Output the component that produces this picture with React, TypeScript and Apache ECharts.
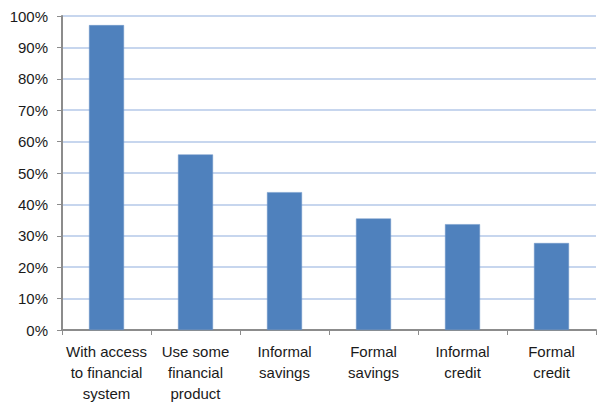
import React, { useEffect, useRef } from "react";
import * as echarts from "echarts";

const categories = [
  "With access\nto financial\nsystem",
  "Use some\nfinancial\nproduct",
  "Informal\nsavings",
  "Formal\nsavings",
  "Informal\ncredit",
  "Formal\ncredit",
];
const values = [97.1, 55.9, 43.9, 35.5, 33.7, 27.7];
const yTicks = { min: 0, max: 100, interval: 10 };

const FONT = "'Liberation Sans Narrow', 'Liberation Sans', Arial, sans-serif";

export default function App() {
  const ref = useRef<HTMLDivElement>(null);
  useEffect(() => {
    if (!ref.current) return;
    const chart = echarts.init(ref.current, null, { renderer: "svg" });
    chart.setOption({
      animation: false,
      backgroundColor: "#ffffff",
      grid: { left: 62, right: 1, top: 16, bottom: 73, containLabel: false },
      xAxis: {
        type: "category",
        data: categories,
        axisLine: { lineStyle: { color: "#8c8c8c", width: 2 } },
        axisTick: { show: true, length: 5, interval: 0, lineStyle: { color: "#8c8c8c", width: 1 } },
        axisLabel: {
          interval: 0,
          margin: 11,
          color: "#1a1a1a",
          fontSize: 15,
          lineHeight: 21,
          fontFamily: FONT,
        },
        splitLine: { show: false },
      },
      yAxis: {
        type: "value",
        min: yTicks.min,
        max: yTicks.max,
        interval: yTicks.interval,
        axisLine: { show: true, lineStyle: { color: "#8c8c8c", width: 2 } },
        axisTick: { show: true, length: 5, lineStyle: { color: "#8c8c8c", width: 1 } },
        axisLabel: {
          margin: 14,
          color: "#1a1a1a",
          fontSize: 15,
          fontFamily: FONT,
          formatter: (v: number) => `${v}%`,
        },
        splitLine: { show: true, lineStyle: { color: "#b4c8e8", width: 1.5 } },
      },
      series: [
        {
          type: "bar",
          data: values,
          barWidth: 35,
          itemStyle: { color: "#4f81bd", borderColor: "#6f97c8", borderWidth: 0.5 },
        },
      ],
    });
    return () => chart.dispose();
  }, []);
  return (
    <div
      ref={ref}
      style={{ position: "fixed", left: 0, top: 0, width: 597, height: 404 }}
    />
  );
}
